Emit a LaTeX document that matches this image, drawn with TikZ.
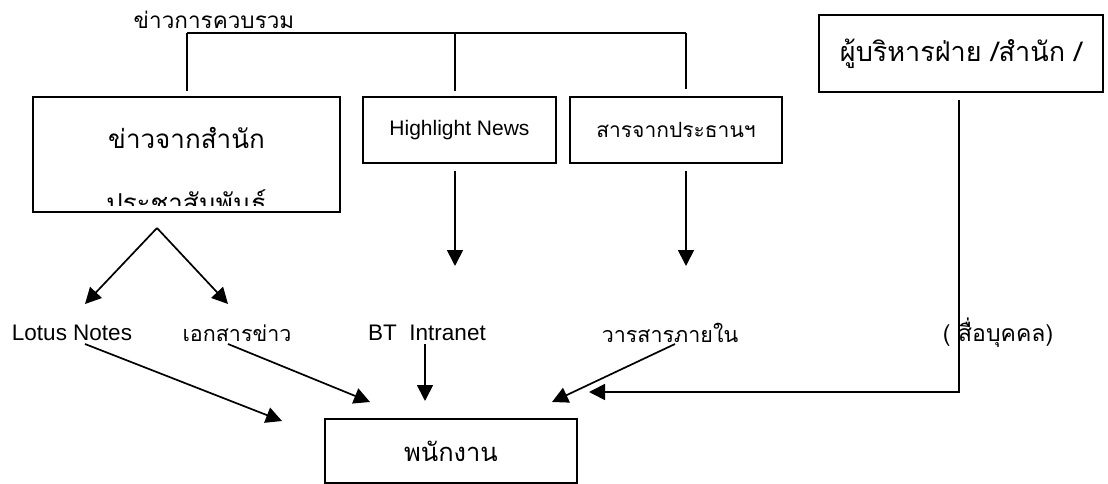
\documentclass[tikz,border=0pt]{standalone}
\usepackage{fontspec}
\setmainfont{Liberation Sans}
\newfontfamily\thai[Script=Thai]{Loma}
\usetikzlibrary{arrows.meta}

\tikzset{
  box/.style={draw, line width=1.8pt, inner sep=0pt},
  lbl/.style={inner sep=0pt, font=\fontsize{22.5}{24}\selectfont},
  tlbl/.style={inner sep=0pt, font=\thai\fontsize{21.5}{24}\selectfont},
  arr/.style={-{Triangle[length=16pt,width=16pt]}},
}

\begin{document}
\begin{tikzpicture}[x=1pt,y=-1pt,line width=1.7pt]
            \useasboundingbox (0,0) rectangle (1108,484);
            \coordinate (B1) at (187,33);
            \coordinate (B2) at (455,33);
            \coordinate (B3) at (686,33);
            \coordinate (T) at (157,228);
            \coordinate (L1) at (85,304);
            \coordinate (L2) at (228,304);
            \coordinate (H) at (455,266);
            \coordinate (P) at (686,266);
            \coordinate (K) at (959,392);
            \coordinate (S1) at (85,344);
            \coordinate (S2) at (228,344);
            \coordinate (S3) at (425,344);
            \coordinate (S4) at (675,344);
            \coordinate (E1) at (282,421);
            \coordinate (E2) at (370,402);
            \coordinate (E3) at (425,401);
            \coordinate (E4) at (552,402);
            \coordinate (E5) at (589,392);

            \node[inner sep=0pt, font=\thai\fontsize{22.5}{24}\selectfont] (title) at (214,20) {ข่าวการควบรวม};
            \node[box, minimum width=307, minimum height=115,
                  path picture={
                    \clip ([yshift=7pt]path picture bounding box.south west) rectangle (path picture bounding box.north east);
                    \node[font=\thai\fontsize{26}{28}\selectfont] at ([yshift=17pt]path picture bounding box.center) {ข่าวจากสำนัก};
                    \node[font=\thai\fontsize{26}{28}\selectfont] at ([yshift=-47pt]path picture bounding box.center) {ประชาสัมพันธ์};
                  }] (pr) at (186.5,154.5) {};
            \node[box, minimum width=193, minimum height=66, font=\fontsize{21}{23}\selectfont] (hl) at (459.5,130) {Highlight News};
            \node[box, minimum width=212, minimum height=66, font=\thai\fontsize{21}{23}\selectfont] (pres) at (676,130) {สารจากประธานฯ};
            \node[box, minimum width=284, minimum height=77, font=\thai\fontsize{27}{29}\selectfont] (boss) at (961,53.5) {ผู้บริหารฝ่าย /สำนัก /};

            \node[lbl] (lotus) at (72,333) {Lotus Notes};
            \node[tlbl] (doc) at (237,333) {เอกสารข่าว};
            \node[lbl] (bt) at (427,333) {BT\ \ Intranet};
            \node[tlbl] (jour) at (670,333) {วารสารภายใน};
            \node[tlbl, font=\thai\fontsize{23}{25}\selectfont] (pers) at (998,333) {( สื่อบุคคล)};

            \node[box, minimum width=252, minimum height=64, font=\thai\fontsize{25.5}{27}\selectfont] (staff) at (451,451) {พนักงาน};

            \draw (B1) -- (B3);
            \draw[shorten >=5pt] (B1) -- (B1 |- pr.north);
            \draw[shorten >=5pt] (B2) -- (B2 |- hl.north);
            \draw[shorten >=7pt] (B3) -- (B3 |- pres.north);

            \draw[arr] (T) -- (L1);
            \draw[arr] (T) -- (L2);
            \draw[arr, shorten <=7pt] (H |- hl.south) -- (H);
            \draw[arr, shorten <=7pt] (P |- pres.south) -- (P);

            \draw[arr] (S1) -- (E1);
            \draw[arr] (S2) -- (E2);
            \draw[arr] (S3) -- (E3);
            \draw[arr] (S4) -- (E4);
            \draw[arr, shorten <=7pt] (K |- boss.south) -- (K) -- (E5);
            % \draw[arr] (boss.south) -- (staff.east);
\end{tikzpicture}
\end{document}
